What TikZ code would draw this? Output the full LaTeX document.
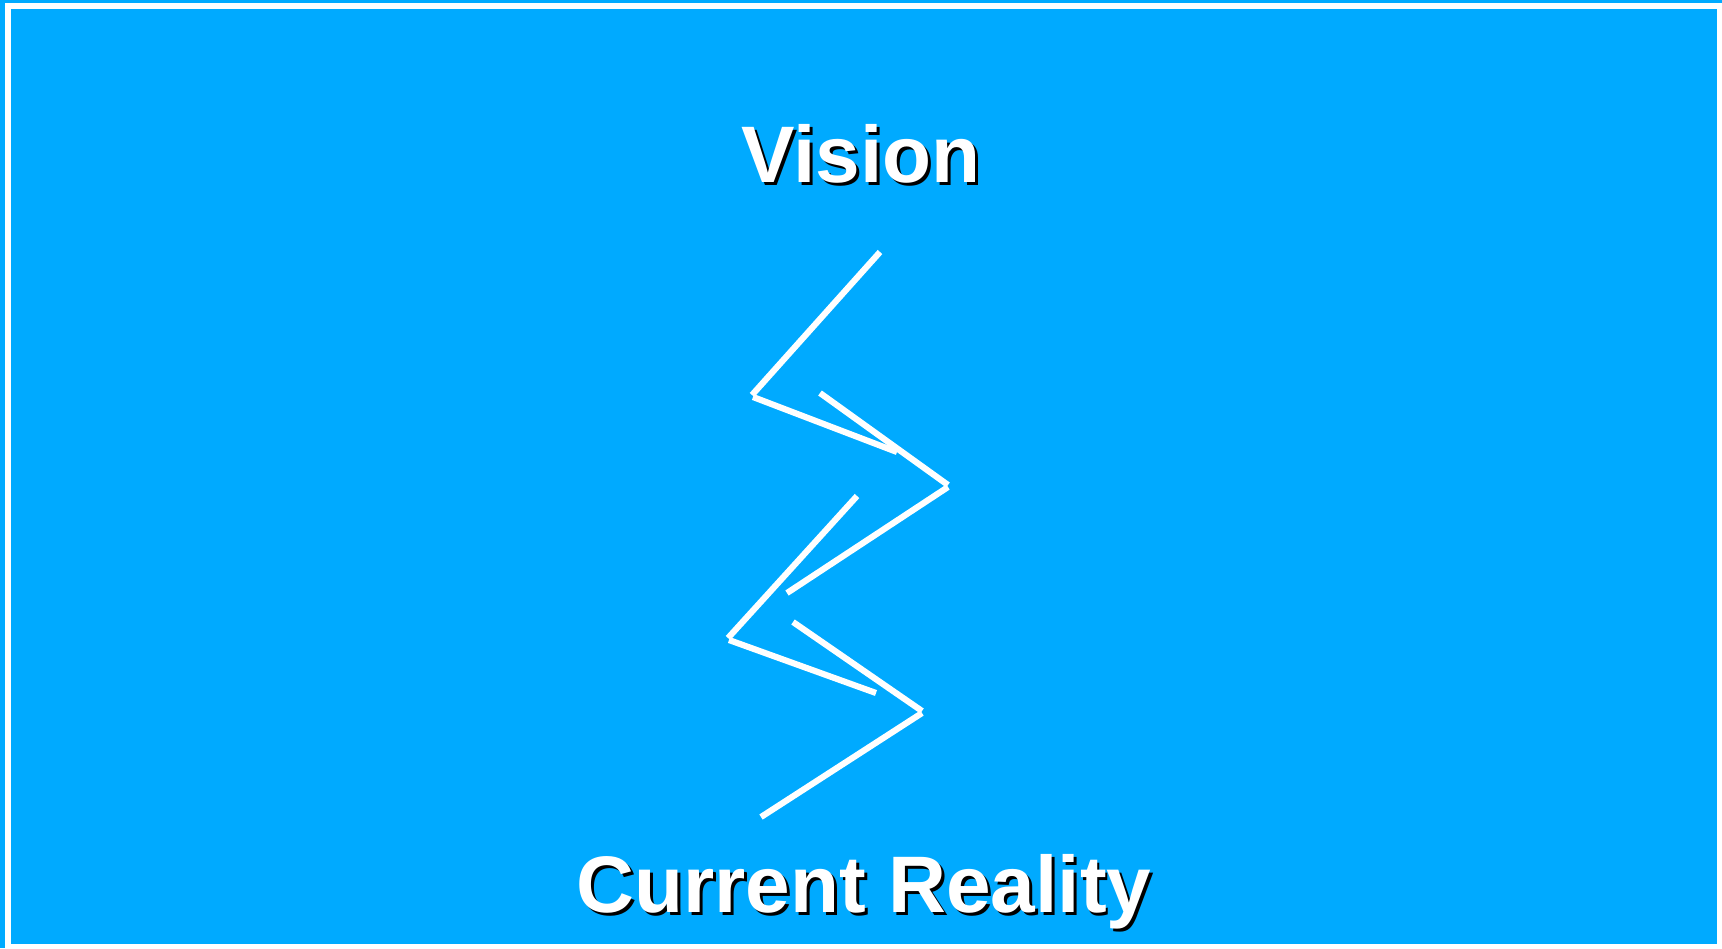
\documentclass[tikz,border=0pt]{standalone}
\usepackage{fontspec}
\setmainfont{Liberation Sans}
\usepackage{xcolor}
\usepackage{tikz}
\usetikzlibrary{calc, positioning}

\definecolor{skyblue}{RGB}{0,170,255}

\tikzset{
    zig/.style={white, line width=1.75pt},
    heading/.style={font=\bfseries\fontsize{22.8}{27}\selectfont, anchor=base, inner sep=0pt},
}

\begin{document}
\begin{tikzpicture}[x=0.01cm, y=-0.01cm]
    % 1. Nen xanh va khung trang
    \useasboundingbox (0,0) rectangle (1722,948);
    \fill[skyblue] (0,0) rectangle (1722,948);
    \draw[white, line width=1.5pt] (8,6) rectangle (1719.5,947);

    % 2. Tieu de tren: Vision (co bong den)
    \node[heading, black] (visionshadow) at (864,185) {Vision};
    \node[heading, white] (vision) at (861,182) {Vision};

    % 3. Tieu de duoi: Current Reality
    \node[heading, black] (realityshadow) at (867,915) {Current Reality};
    \node[heading, white] (reality) at (864,912) {Current Reality};

    % 4. Duong zigzag tu Vision xuong Current Reality
    % Nhanh tren
    \draw[zig] (880,252) -- (752,395);
    \draw[zig] (753,397) -- (897,452);
    \draw[zig] (820,393) -- (948,485);
    \draw[zig] (948,487) -- (787,593);

    % Nhanh duoi
    \draw[zig] (857,496) -- (728,638);
    \draw[zig] (729,640) -- (876,693);
    \draw[zig] (793,622) -- (922,711);
    \draw[zig] (922,713) -- (761,817);

\end{tikzpicture}
\end{document}
